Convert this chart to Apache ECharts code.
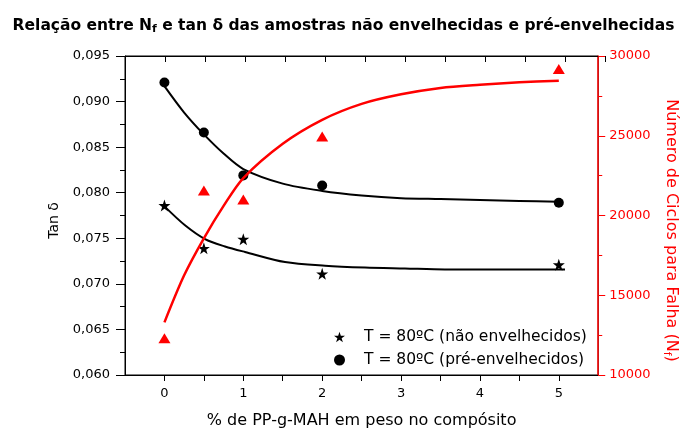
<!DOCTYPE html>
<html>
<head>
<meta charset="utf-8">
<script src="https://cdn.jsdelivr.net/npm/echarts@6/dist/echarts.min.js"></script>
<style>
  html, body { margin: 0; padding: 0; background: #fff; }
  #chart { width: 687px; height: 434px; }
</style>
</head>
<body>
<div id="chart"></div>
<script>
// Measured samples: % PP-g-MAH by weight
const compat = [0, 0.5, 1, 2, 5];
// tan δ, unaged samples (stars)
const tanUnaged = [0.0786, 0.0739, 0.0749, 0.0711, 0.0721];
// tan δ, pre-aged samples (circles)
const tanAged = [0.0921, 0.0866, 0.0819, 0.0808, 0.0789];
// cycles to failure N_f (triangles, right axis)
const cycles = [12300, 21570, 21010, 24950, 29190];

// Fitted trend curves
const fitX = [0, 0.25, 0.5, 0.75, 1, 1.5, 2, 2.5, 3, 3.5, 4, 4.5, 5];
const fitAged = [0.0917, 0.0888, 0.0864, 0.0843, 0.0826, 0.0810, 0.0802, 0.0797, 0.0794, 0.0793, 0.0792, 0.0791, 0.0790];
const fitUnaged = [0.0786, 0.0766, 0.0751, 0.0743, 0.0737, 0.0726, 0.0722, 0.0720, 0.0719, 0.0718, 0.0718, 0.0718, 0.0718];
const fitCycles = [13300, 16250, 18570, 20600, 22350, 24500, 26000, 27000, 27600, 28000, 28200, 28350, 28450];

// Labelled x ticks
const xTicks = [0, 1, 2, 3, 4, 5];

const FONT = '"DejaVu Sans", sans-serif';
const RED = '#ff0000';
const STAR = 'path://M50,0 L61.8,35.1 L98.5,35.1 L68.8,56.9 L79.9,92 L50,70.4 L20.1,92 L31.2,56.9 L1.5,35.1 L38.2,35.1 Z';

const pairs = (xs, ys) => xs.map((x, i) => [x, ys[i]]);

const chart = echarts.init(document.getElementById('chart'), null, { renderer: 'canvas' });

// plot rectangle shared by the main grid and the overlay grid carrying the top axis
const RECT = { left: 125, right: 82, top: 56, bottom: 56, containLabel: false };

// shared scale for the bottom/top x axes (ticks every 0.5)
const baseX = () => ({
  type: 'value', min: -0.5, max: 5.5, interval: 0.5,
  splitLine: { show: false },
  axisLine: { show: true, onZero: false, lineStyle: { color: '#000', width: 1 } }
});

chart.setOption({
  animation: false,
  backgroundColor: '#fff',
  title: {
    text: 'Relação entre N{sub|f} e tan δ das amostras não envelhecidas e pré-envelhecidas',
    left: 'center',
    top: 11,
    textStyle: {
      fontFamily: FONT, fontSize: 15.5, fontWeight: 'bold', color: '#000',
      rich: {
        sub: { fontFamily: FONT, fontSize: 11, fontWeight: 'bold', color: '#000', verticalAlign: 'bottom', padding: [8, 0, 0, 0] }
      }
    }
  },
  grid: [
    Object.assign({}, RECT, { show: true, borderColor: '#000', borderWidth: 1, backgroundColor: 'transparent' }),
    Object.assign({}, RECT, { show: false })
  ],
  legend: {
    orient: 'vertical',
    left: 334,
    top: 328,
    padding: 0,
    itemGap: 5,
    itemWidth: 11,
    itemHeight: 11,
    data: [
      { name: 'T = 80ºC (não envelhecidos)', icon: STAR },
      { name: 'T = 80ºC (pré-envelhecidos)', icon: 'circle' }
    ],
    textStyle: { fontFamily: FONT, fontSize: 15.5, color: '#000', lineHeight: 18, padding: [0, 0, 0, 14] }
  },
  xAxis: [
    Object.assign(baseX(), {
      gridIndex: 0,
      position: 'bottom',
      name: '% de PP-g-MAH em peso no compósito',
      nameLocation: 'middle',
      nameGap: 38,
      nameTextStyle: { fontFamily: FONT, fontSize: 16, color: '#000' },
      axisTick: { show: true, inside: false, length: 6, lineStyle: { color: '#000' } },
      axisLabel: {
        fontFamily: FONT, fontSize: 13, color: '#000', margin: 12,
        showMinLabel: false, showMaxLabel: false,
        formatter: v => (xTicks.indexOf(v) >= 0 ? String(v) : '')
      }
    }),
    Object.assign(baseX(), {
      gridIndex: 1,
      position: 'top',
      axisTick: { show: true, inside: true, length: 6, lineStyle: { color: '#000' } },
      axisLabel: { show: false }
    })
  ],
  yAxis: [
    {
      gridIndex: 0,
      type: 'value', position: 'left',
      min: 0.060, max: 0.095, interval: 0.005,
      name: 'Tan δ',
      nameLocation: 'middle',
      nameGap: 64,
      nameTextStyle: { fontFamily: FONT, fontSize: 14, color: '#000', padding: [0, 10, 0, 0] },
      splitLine: { show: false },
      axisLine: { show: true, onZero: false, lineStyle: { color: '#000', width: 1 } },
      axisTick: { show: true, inside: false, length: 9, lineStyle: { color: '#000' } },
      minorTick: { show: true, splitNumber: 2, length: 5, lineStyle: { color: '#000' } },
      axisLabel: {
        fontFamily: FONT, fontSize: 13, color: '#000', margin: 15,
        formatter: v => v.toFixed(3).replace('.', ',')
      }
    },
    {
      gridIndex: 0,
      type: 'value', position: 'right',
      min: 10000, max: 30000, interval: 5000,
      name: 'Número de Ciclos para Falha (N{sub|f})',
      nameLocation: 'middle',
      nameRotate: -90,
      nameGap: 62,
      nameTextStyle: {
        fontFamily: FONT, fontSize: 16, color: RED, padding: [0, 0, 0, 30],
        rich: { sub: { fontFamily: FONT, fontSize: 11, color: RED, verticalAlign: 'bottom', padding: [8, 0, 0, 0] } }
      },
      splitLine: { show: false },
      axisLine: { show: true, onZero: false, lineStyle: { color: RED, width: 1.5 } },
      axisTick: { show: true, inside: false, length: 7, lineStyle: { color: RED } },
      minorTick: { show: true, splitNumber: 2, length: 4, lineStyle: { color: RED } },
      axisLabel: { fontFamily: FONT, fontSize: 13, color: RED, margin: 11, formatter: v => String(v) }
    },
    {
      // same tan δ scale in the overlay grid, not drawn
      gridIndex: 1,
      type: 'value', position: 'left',
      min: 0.060, max: 0.095, interval: 0.005,
      show: false,
      splitLine: { show: false }
    }
  ],
  series: [
    {
      name: 'fitAged', type: 'line', xAxisIndex: 0, yAxisIndex: 0,
      data: pairs(fitX, fitAged), smooth: 0.3,
      showSymbol: false, symbol: 'none', silent: true,
      lineStyle: { color: '#000', width: 2 }, z: 2
    },
    {
      name: 'fitUnaged', type: 'line', xAxisIndex: 1, yAxisIndex: 2,
      data: pairs(fitX, fitUnaged), smooth: 0.3,
      showSymbol: false, symbol: 'none', silent: true,
      lineStyle: { color: '#000', width: 2 }, z: 2
    },
    {
      name: 'fitCycles', type: 'line', xAxisIndex: 0, yAxisIndex: 1,
      data: pairs(fitX, fitCycles), smooth: 0.3,
      showSymbol: false, symbol: 'none', silent: true,
      lineStyle: { color: RED, width: 2.5 }, z: 4
    },
    {
      name: 'T = 80ºC (não envelhecidos)', type: 'scatter', xAxisIndex: 0, yAxisIndex: 0,
      data: pairs(compat, tanUnaged), symbol: STAR, symbolSize: 12,
      itemStyle: { color: '#000', opacity: 1 }, z: 3
    },
    {
      name: 'T = 80ºC (pré-envelhecidos)', type: 'scatter', xAxisIndex: 0, yAxisIndex: 0,
      data: pairs(compat, tanAged), symbol: 'circle', symbolSize: 10,
      itemStyle: { color: '#000', opacity: 1 }, z: 3
    },
    {
      name: 'Nf', type: 'scatter', xAxisIndex: 0, yAxisIndex: 1,
      data: pairs(compat, cycles), symbol: 'triangle', symbolSize: [12, 10],
      itemStyle: { color: RED, opacity: 1 }, z: 3
    }
  ]
});
</script>
</body>
</html>
